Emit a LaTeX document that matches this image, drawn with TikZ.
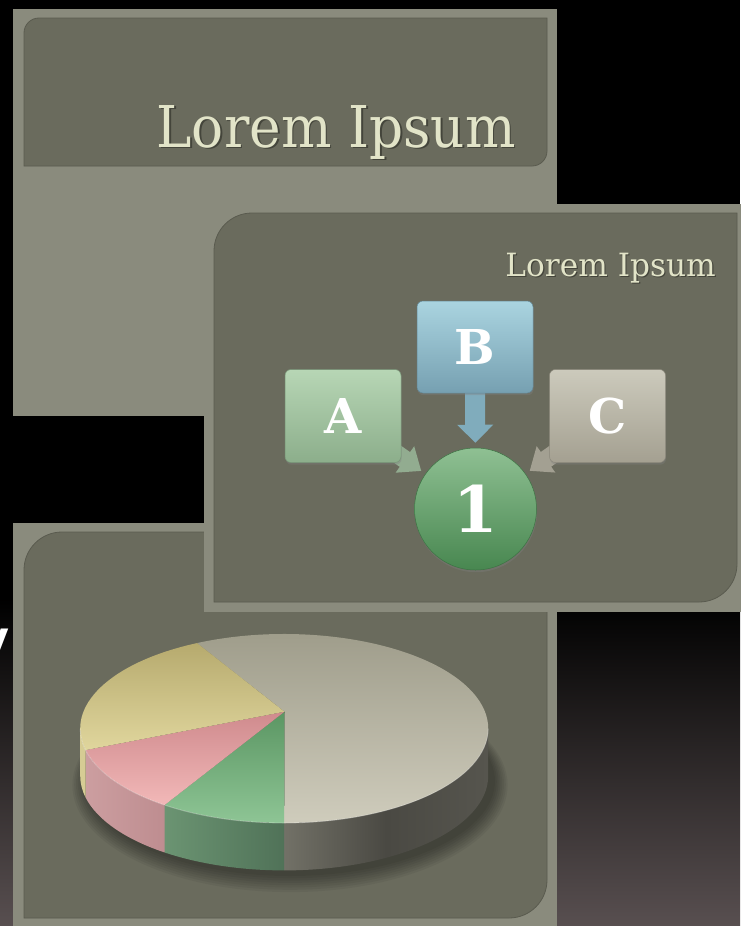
\documentclass[tikz,border=0pt]{standalone}
\usepackage{fontspec}
\usepackage{graphicx}
\setmainfont{DejaVu Serif}
\newfontfamily\ysans{DejaVu Sans}
\usetikzlibrary{arrows.meta,shadows}
\pgfdeclarelayer{bg}
\pgfdeclarelayer{mid}
\pgfsetlayers{bg,mid,main}
\definecolor{framec}{RGB}{138,139,125}
\definecolor{panelc}{RGB}{106,107,93}
\definecolor{paneledge}{RGB}{90,91,79}
\definecolor{titlec}{RGB}{226,228,200}
\definecolor{tshadow}{RGB}{68,69,59}
\definecolor{bgbot}{RGB}{88,79,80}
\definecolor{aTop}{RGB}{183,214,181}
\definecolor{aBot}{RGB}{140,174,139}
\definecolor{bTop}{RGB}{170,212,224}
\definecolor{bBot}{RGB}{118,160,177}
\definecolor{cTop}{RGB}{204,202,188}
\definecolor{cBot}{RGB}{164,160,145}
\definecolor{oTop}{RGB}{143,192,147}
\definecolor{oBot}{RGB}{72,135,80}
\definecolor{arrA}{RGB}{146,172,144}
\definecolor{arrB}{RGB}{128,172,188}
\definecolor{arrC}{RGB}{163,160,146}
\definecolor{gT}{RGB}{156,154,136}
\definecolor{gB}{RGB}{207,204,188}
\definecolor{yT}{RGB}{182,170,110}
\definecolor{yB}{RGB}{224,214,157}
\definecolor{pT}{RGB}{207,138,141}
\definecolor{pB}{RGB}{242,184,184}
\definecolor{grT}{RGB}{91,150,99}
\definecolor{grB}{RGB}{142,197,149}
\definecolor{gsL}{RGB}{114,113,103}
\definecolor{gsM}{RGB}{74,73,67}
\definecolor{gsR}{RGB}{86,85,78}
\definecolor{grsL}{RGB}{107,148,114}
\definecolor{grsR}{RGB}{80,114,88}
\definecolor{psL}{RGB}{204,158,160}
\definecolor{psR}{RGB}{190,141,144}
\definecolor{ysd}{RGB}{214,204,148}
\newcommand{\shtext}[2]{\leavevmode\rlap{\hspace{#1}\raisebox{-#1}{\textcolor{tshadow}{#2}}}#2}
\begin{document}
\begin{tikzpicture}[x=1pt,y=-1pt,
  frame/.style={fill=framec},
  panel/.style={fill=panelc, draw=paneledge, line width=0.8pt},
  lettbox/.style={rectangle, rounded corners=6pt, minimum width=116pt, minimum height=93pt,
     inner sep=0pt, text=white, font=\bfseries\fontsize{48}{50}\selectfont,
     drop shadow={shadow xshift=0.6pt, shadow yshift=-2.2pt, opacity=0.35}},
  blockarrow/.style={line width=18pt, -{Triangle[length=20pt,width=31pt]}, shorten >=5pt},
  pieR/.style={x radius=204, y radius=94.5}
]
\useasboundingbox (0,0) rectangle (740,926);
\begin{pgfonlayer}{bg}
% background
\fill[black] (0,0) rectangle (740,600);
\shade[top color=black, bottom color=bgbot] (0,598) rectangle (740,926);
\node[anchor=base east, inner sep=0pt, text=white, font=\ysans\bfseries\fontsize{43}{43}\selectfont] (ychar) at (10,652) {y};
% slide 1
\fill[frame] (13,9) rectangle (557,416);
\path[panel] (24,166) -- (24,33) arc[start angle=180,end angle=270,radius=15] -- (547,18)
   -- (547,151) arc[start angle=0,end angle=90,radius=15] -- cycle;
% slide 3
\fill[frame] (13,523) rectangle (557,930);
\path[panel] (24,918) -- (24,570) arc[start angle=180,end angle=270,radius=38] -- (547,532)
   -- (547,880) arc[start angle=0,end angle=90,radius=38] -- cycle;
% pie shadow
\foreach \k in {0,...,7}
  \fill[black,opacity=0.05] (290,{781+\k*0.6}) ellipse[x radius={205+\k*1.8}, y radius={95+\k*1.7}];
% pie sides
\shade[left color=gsL, right color=gsR, middle color=gsM]
  (488.2,728.5) arc[start angle=0,end angle=90,pieR] -- ++(0,47.4)
  arc[start angle=90,end angle=0,pieR] -- cycle;
\shade[left color=grsL, right color=grsR]
  (284.2,823) arc[start angle=90,end angle=125.9,pieR] -- ++(0,47.4)
  arc[start angle=125.9,end angle=90,pieR] -- cycle;
\shade[left color=psL, right color=psR]
  ({284.2+204*cos(125.9)},{728.5+94.5*sin(125.9)}) arc[start angle=125.9,end angle=166.8,pieR] -- ++(0,47.4)
  arc[start angle=166.8,end angle=125.9,pieR] -- cycle;
\fill[ysd]
  ({284.2+204*cos(166.8)},{728.5+94.5*sin(166.8)}) arc[start angle=166.8,end angle=180,pieR] -- ++(0,47.4)
  arc[start angle=180,end angle=166.8,pieR] -- cycle;
% pie top
\shade[top color=gT, bottom color=gB]
  (284.5,711.7) -- ({284.2+204*cos(-115.3)},{728.5+94.5*sin(-115.3)})
  arc[start angle=-115.3,end angle=90,pieR] -- cycle;
\shade[top color=grT, bottom color=grB]
  (284.5,711.7) -- (284.2,823) arc[start angle=90,end angle=125.9,pieR] -- cycle;
\shade[top color=pT, bottom color=pB]
  (284.5,711.7) -- ({284.2+204*cos(125.9)},{728.5+94.5*sin(125.9)})
  arc[start angle=125.9,end angle=166.8,pieR] -- cycle;
\shade[top color=yT, bottom color=yB]
  (284.5,711.7) -- ({284.2+204*cos(166.8)},{728.5+94.5*sin(166.8)})
  arc[start angle=166.8,end angle=244.7,pieR] -- cycle;
\draw[white, opacity=0.3, line width=0.8pt] (488.2,728.5) arc[start angle=0,end angle=180,pieR];
% slide 2
\fill[frame] (204,204) rectangle (745,612);
\path[panel] (214,602) -- (214,251) arc[start angle=180,end angle=270,radius=38] -- (737,213)
   -- (737,564) arc[start angle=0,end angle=90,radius=38] -- cycle;
\end{pgfonlayer}
% titles
\node[anchor=base east, inner sep=0pt, text=titlec, font=\fontsize{57.6}{60}\selectfont] (t1) at (516,147)
  {\scalebox{0.925}[1]{\shtext{1.8pt}{Lorem Ipsum}}};
\node[anchor=base east, inner sep=0pt, text=titlec, font=\fontsize{32}{34}\selectfont] (t2) at (716,276)
  {\scalebox{0.975}[1]{\shtext{1.2pt}{Lorem Ipsum}}};
% diagram
\node[lettbox, top color=aTop, bottom color=aBot, draw=aBot!85!black, line width=0.5pt] (A) at (343,416) {A};
\node[lettbox, minimum height=92pt, top color=bTop, bottom color=bBot, draw=bBot!85!black, line width=0.5pt] (B) at (475,347) {B};
\node[lettbox, top color=cTop, bottom color=cBot, draw=cBot!85!black, line width=0.5pt] (C) at (607.5,416) {C};
\node[circle, minimum size=122pt, inner sep=0pt, top color=oTop, bottom color=oBot, draw=oBot!85!black, line width=0.5pt,
  text=white, font=\bfseries\fontsize{64}{66}\selectfont,
  drop shadow={shadow xshift=0.6pt, shadow yshift=-2.2pt, opacity=0.35}] (one) at (475.5,509) {1};
\begin{pgfonlayer}{mid}
\draw[blockarrow, arrA] (A.center) -- (one);
\draw[blockarrow, arrC] (C.center) -- (one);
\draw[arrB, line width=20pt, -{Triangle[length=18pt,width=35pt]}, shorten >=5pt] (B.center) -- (one);
\end{pgfonlayer}
\end{tikzpicture}
\end{document}
